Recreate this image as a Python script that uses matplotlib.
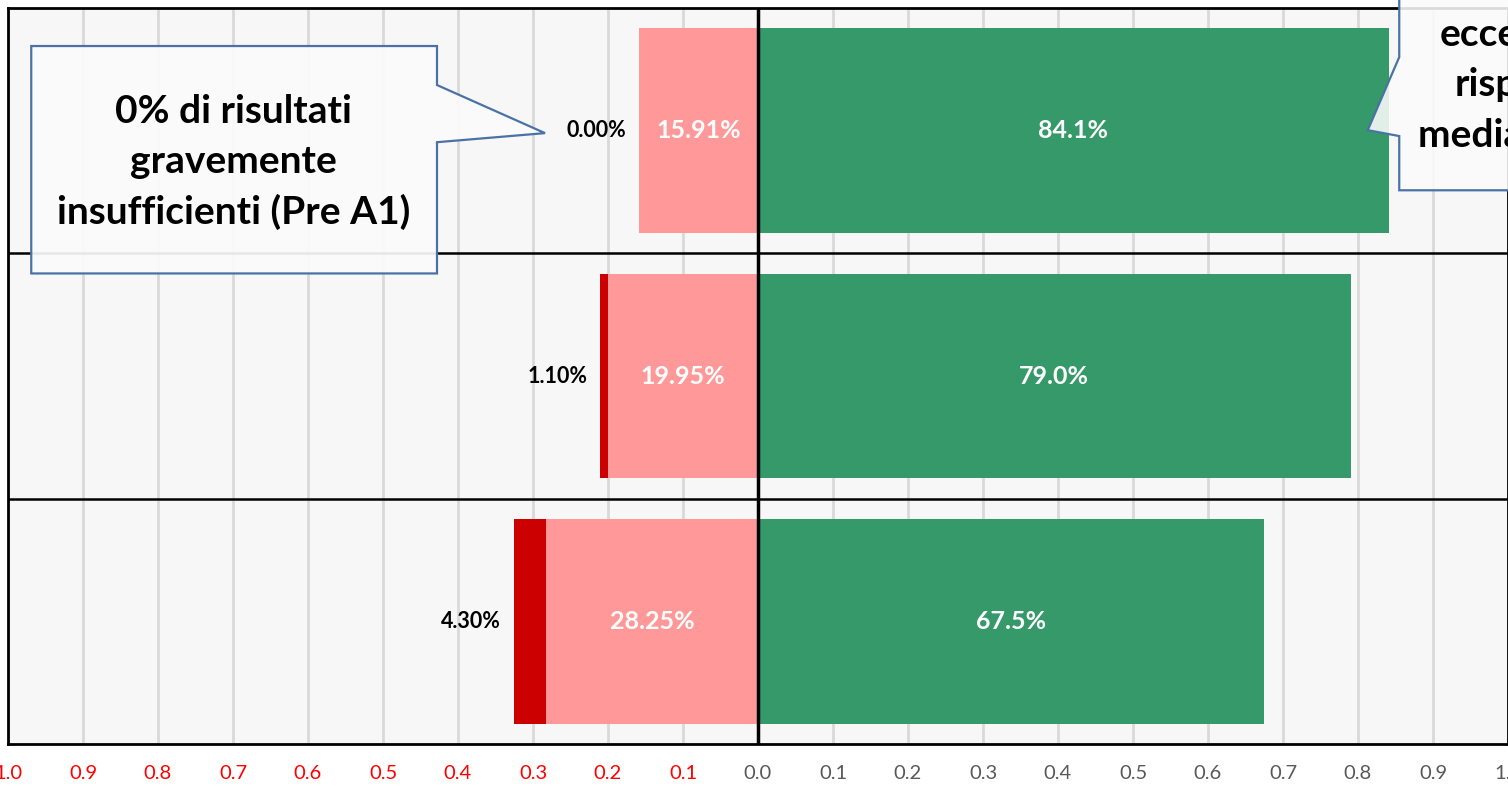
import matplotlib.pyplot as plt
from matplotlib.patches import Polygon
import numpy as np

plt.rcParams['font.family'] = ['Lato', 'DejaVu Sans']

# quote per riga (dall'alto in basso), in frazione
grave = [0.0000, 0.0110, 0.0430]          # gravemente insufficienti (Pre A1)
insuff = [0.1591, 0.1995, 0.2825]         # insufficienti
suff = [0.841, 0.790, 0.675]              # sufficienti o oltre

ticks = np.round(np.arange(-1.0, 1.01, 0.1), 1)
tick_labels = ["%.1f" % abs(t) for t in ticks]

c_grave = "#cc0000"
c_insuff = "#ff9999"
c_suff = "#36996a"

fig = plt.figure(figsize=(15.08, 7.86), dpi=100)
ax = fig.add_axes([8 / 1508, 42 / 786, 1500 / 1508, 736 / 786])
ax.set_facecolor("#f7f7f7")

y = np.arange(len(suff))
h = 0.833
g = np.array(grave)
i = np.array(insuff)
s = np.array(suff)

ax.barh(y, -i, height=h, color=c_insuff, zorder=3)
ax.barh(y, -g, left=-i, height=h, color=c_grave, zorder=3)
ax.barh(y, s, height=h, color=c_suff, zorder=3)

for k in range(len(y)):
    ax.text(-i[k] / 2, y[k], "%.2f%%" % (i[k] * 100), ha="center", va="center",
            color="white", fontsize=18, fontweight="bold", zorder=5)
    ax.text(s[k] / 2, y[k], "%.1f%%" % (s[k] * 100), ha="center", va="center",
            color="white", fontsize=18, fontweight="bold", zorder=5)
    ax.text(-(i[k] + g[k]) - 0.017, y[k], "%.2f%%" % (g[k] * 100), ha="right",
            va="center", color="black", fontsize=15.5, fontweight="bold", zorder=5)

ax.set_xlim(-1.0, 1.0)
ax.set_ylim(2.5, -0.5)
ax.set_yticks([])
ax.set_xticks(ticks)
ax.set_xticklabels(tick_labels, fontsize=14.5)
for t, lab in zip(ticks, ax.get_xticklabels()):
    lab.set_color("#ff0000" if t < 0 else "#595959")
ax.tick_params(axis="x", length=0, pad=15)
ax.grid(axis="x", color="#d9d9d9", linewidth=2, zorder=0)
ax.axvline(0, color="black", linewidth=2.5, zorder=4)
for sep in [0.5, 1.5]:
    ax.axhline(sep, color="black", linewidth=1.8, zorder=4)
for sp in ax.spines.values():
    sp.set_linewidth(2)
    sp.set_color("black")

# callout a sinistra
left_box = [(-0.969, -0.345), (-0.428, -0.345), (-0.428, -0.186), (-0.284, 0.010),
            (-0.428, 0.047), (-0.428, 0.582), (-0.969, 0.582)]
ax.add_patch(Polygon(left_box, closed=True, facecolor="#fbfbfb", alpha=0.92,
                     edgecolor="none", zorder=6, clip_on=False))
ax.add_patch(Polygon(left_box, closed=True, facecolor="none", edgecolor="#4a72a6",
                     linewidth=1.6, zorder=7, clip_on=False))
ax.text(-0.699, 0.129, "0% di risultati\ngravemente\ninsufficienti (Pre A1)",
        ha="center", va="center", fontsize=28, fontweight="bold", linespacing=1.5,
        zorder=8)

# callout a destra (tagliato dal bordo)
right_box = [(0.855, -0.62), (1.3, -0.62), (1.3, 0.243), (0.855, 0.243),
             (0.855, 0.022), (0.813, -0.002), (0.855, -0.30)]
ax.add_patch(Polygon(right_box, closed=True, facecolor="#fbfbfb", alpha=0.88,
                     edgecolor="none", zorder=6, clip_on=False))
ax.add_patch(Polygon(right_box, closed=True, facecolor="none", edgecolor="#4a72a6",
                     linewidth=1.6, zorder=7, clip_on=False))
ax.text(1.019, -0.186, "eccellenti\nrispetto\nmedia (A2+)",
        ha="center", va="center", fontsize=28, fontweight="bold", linespacing=1.5,
        zorder=8, clip_on=False)

fig.savefig("out.png", dpi=100, facecolor="white")
